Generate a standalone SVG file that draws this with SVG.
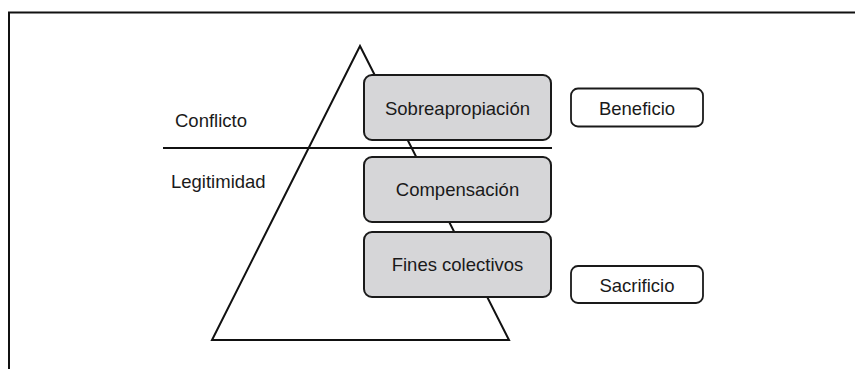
<svg xmlns="http://www.w3.org/2000/svg" width="855" height="369" viewBox="0 0 855 369">
  <style>
    .lbl { font-family: "Liberation Sans", Arial, sans-serif; font-size: 18.5px; fill: #1a1a1a; }
    .mid { text-anchor: middle; }
    .level { fill: #d6d6d8; stroke: #1a1a1a; stroke-width: 2; }
    .tag { fill: #ffffff; stroke: #1a1a1a; stroke-width: 1.8; }
    .ln { fill: none; stroke: #111; stroke-width: 2; }
  </style>
  <rect width="855" height="369" fill="#ffffff"/>
  <!-- open frame: top and left edges only -->
  <path class="ln" d="M9 369 V12.5 H855" stroke-width="2.2"/>

  <g id="connectors">
    <!-- pyramid outline -->
    <polygon class="ln" points="360,46 509,340 212,340" stroke-width="1.8" stroke-linejoin="miter"/>
    <!-- divider between conflict and legitimacy -->
    <line class="ln" x1="163" y1="148" x2="552" y2="148" stroke-width="2.4"/>
  </g>

  <g id="conflicto"><text class="lbl" x="175" y="127">Conflicto</text></g>
  <g id="legitimidad"><text class="lbl" x="171" y="188">Legitimidad</text></g>

  <g id="sobreapropiacion">
    <rect class="level" x="364" y="75" width="187" height="65" rx="8"/>
    <text class="lbl mid" x="457.5" y="115">Sobreapropiación</text>
  </g>
  <g id="compensacion">
    <rect class="level" x="364" y="157" width="187" height="65" rx="8"/>
    <text class="lbl mid" x="457.5" y="196">Compensación</text>
  </g>
  <g id="fines">
    <rect class="level" x="364" y="232" width="187" height="65" rx="8"/>
    <text class="lbl mid" x="457.5" y="271">Fines colectivos</text>
  </g>

  <g id="beneficio">
    <rect class="tag" x="571" y="88.5" width="132" height="38" rx="7"/>
    <text class="lbl mid" x="637" y="114.5">Beneficio</text>
  </g>
  <g id="sacrificio">
    <rect class="tag" x="571" y="266" width="132" height="37" rx="7"/>
    <text class="lbl mid" x="637" y="291.5">Sacrificio</text>
  </g>
</svg>
